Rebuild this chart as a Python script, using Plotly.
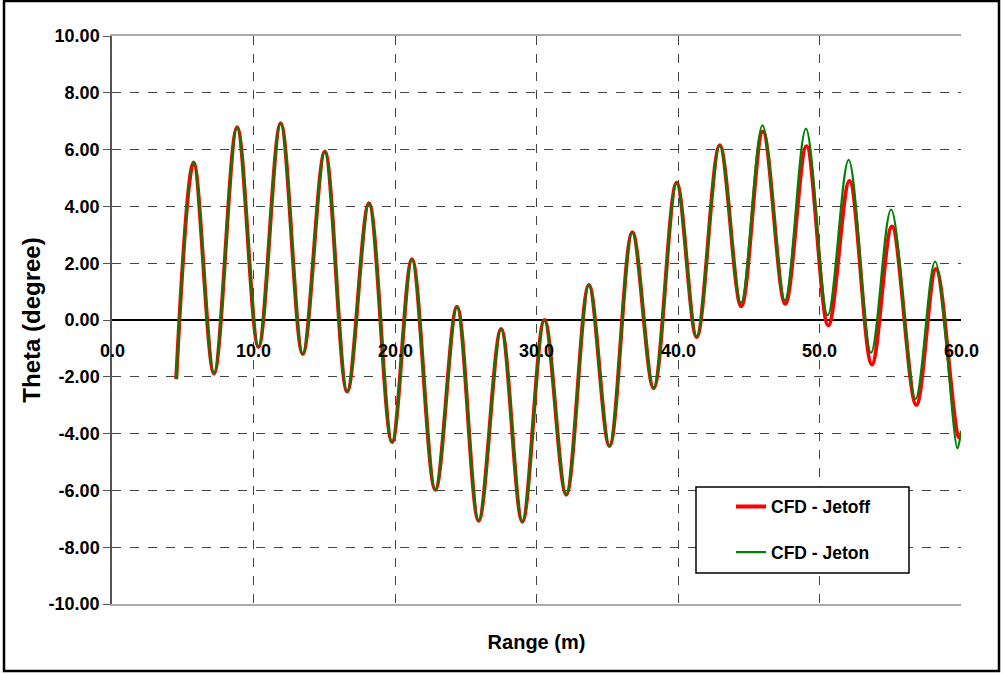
import plotly.graph_objects as go

# Pitch angle extrema along the range (m), read per oscillation
range_jetoff = [4.54, 5.77, 7.21, 8.84, 10.35, 11.92, 13.48, 15.04, 16.62, 18.16,
                19.79, 21.20, 22.85, 24.38, 25.91, 27.50, 29.00, 30.56, 32.10, 33.70,
                35.16, 36.77, 38.28, 39.90, 41.32, 42.95, 44.47, 46.00, 47.58, 49.08,
                50.62, 52.12, 53.70, 55.12, 56.84, 58.23, 59.85, 60.00]
theta_jetoff = [-2.08, 5.55, -1.88, 6.79, -0.95, 6.93, -1.20, 5.93, -2.52, 4.11,
                -4.30, 2.14, -5.98, 0.47, -7.07, -0.32, -7.10, 0.00, -6.15, 1.23,
                -4.44, 3.09, -2.40, 4.83, -0.60, 6.15, 0.48, 6.64, 0.57, 6.12,
                -0.19, 4.89, -1.57, 3.29, -2.99, 1.80, -4.13, -4.10]

range_jeton = [4.54, 5.77, 7.21, 8.84, 10.35, 11.92, 13.48, 15.04, 16.62, 18.16,
               19.79, 21.20, 22.85, 24.38, 25.91, 27.50, 29.00, 30.56, 32.10, 33.70,
               35.16, 36.77, 38.28, 39.90, 41.32, 42.95, 44.45, 45.97, 47.55, 49.04,
               50.58, 52.06, 53.64, 55.06, 56.78, 58.17, 59.75, 60.00]
theta_jeton = [-2.08, 5.55, -1.88, 6.79, -0.95, 6.93, -1.20, 5.93, -2.52, 4.11,
               -4.30, 2.14, -5.98, 0.47, -7.07, -0.32, -7.10, 0.00, -6.15, 1.23,
               -4.44, 3.09, -2.40, 4.83, -0.60, 6.15, 0.60, 6.85, 0.69, 6.74,
               0.16, 5.64, -1.15, 3.89, -2.78, 2.06, -4.52, -3.90]

x_ticks = [0, 10, 20, 30, 40, 50, 60]
x_tick_text = ["0.0", "10.0", "20.0", "30.0", "40.0", "50.0", "60.0"]
y_ticks = [-10, -8, -6, -4, -2, 0, 2, 4, 6, 8, 10]
y_tick_text = ["-10.00", "-8.00", "-6.00", "-4.00", "-2.00", "0.00",
               "2.00", "4.00", "6.00", "8.00", "10.00"]

FONT = "Liberation Sans, Arial, sans-serif"

fig = go.Figure()
fig.add_trace(go.Scatter(
    x=range_jetoff, y=theta_jetoff, mode="lines", name="CFD - Jetoff",
    legendgroup="off",
    line=dict(color="#ff0000", width=4, shape="spline", smoothing=1.0),
))
fig.add_trace(go.Scatter(
    x=range_jeton, y=theta_jeton, mode="lines", name="CFD - Jeton",
    legendgroup="on",
    line=dict(color="#008000", width=2.2, shape="spline", smoothing=1.0),
))

# x tick labels sit just under the zero line
for xv, txt in zip(x_ticks, x_tick_text):
    fig.add_annotation(x=xv, y=0, xref="x", yref="y", text=txt, showarrow=False,
                       yshift=-31, font=dict(family=FONT, size=18, color="black", weight="bold"))

shapes = [
    # outer frame of the whole chart
    dict(type="rect", xref="paper", yref="paper",
         x0=(4 - 112) / 849, x1=(999 - 112) / 849,
         y0=(604 - 671) / 568, y1=(604 - 1) / 568,
         line=dict(color="black", width=2.5), layer="above"),
    # legend frame
    dict(type="rect", xref="paper", yref="paper",
         x0=(696 - 112) / 849, x1=(909 - 112) / 849,
         y0=(604 - 573) / 568, y1=(604 - 487) / 568,
         line=dict(color="black", width=1.5), fillcolor="white", layer="above"),
]

fig.update_layout(
    width=1003, height=674,
    margin=dict(l=112, r=42, t=36, b=70),
    paper_bgcolor="white", plot_bgcolor="white",
    font=dict(family=FONT, color="black"),
    showlegend=True,
    legend=dict(x=(731 - 112) / 849, y=(604 - 529.5) / 568, xanchor="left", yanchor="middle",
                bgcolor="rgba(0,0,0,0)", borderwidth=0, tracegroupgap=20,
                font=dict(family=FONT, size=17.5, color="black", weight="bold")),
    shapes=shapes,
    xaxis=dict(
        range=[0, 60], tickvals=x_ticks, showticklabels=False,
        showgrid=True, gridcolor="#444444", griddash="dash", gridwidth=1,
        zeroline=False, showline=True, linecolor="#aaaaaa", linewidth=1.5, mirror=True,
        title=dict(text="Range (m)", font=dict(family=FONT, size=20, color="black", weight="bold"),
                   standoff=30),
    ),
    yaxis=dict(
        range=[-10, 10], tickvals=y_ticks, ticktext=y_tick_text,
        showgrid=True, gridcolor="#444444", griddash="dash", gridwidth=1,
        zeroline=True, zerolinecolor="black", zerolinewidth=1.5,
        showline=True, linecolor="#555555", linewidth=1.5,
        ticks="outside", ticklen=7, tickcolor="#555555",
        tickfont=dict(family=FONT, size=18, color="black", weight="bold"),
        title=dict(text="Theta (degree)", font=dict(family=FONT, size=24, color="black", weight="bold"),
                   standoff=1),
    ),
)

fig.write_html("out.html")
